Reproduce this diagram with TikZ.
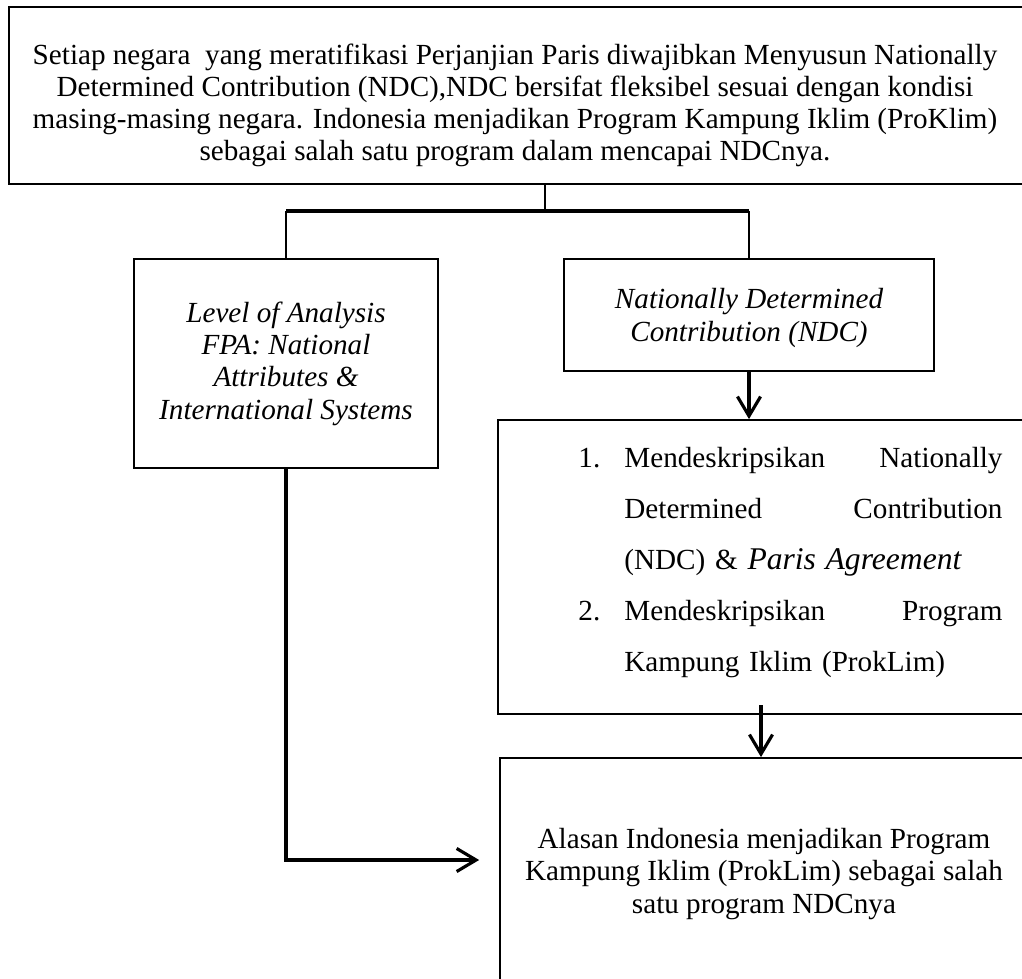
\documentclass[tikz,border=0pt]{standalone}
\usepackage{fontspec}
\setmainfont{Liberation Serif}
\usetikzlibrary{arrows.meta,calc,fit}
\begin{document}
\begin{tikzpicture}[x=0.4115pt,y=-0.4115pt,
  frame/.style={draw, line width=0.75pt, inner sep=0pt},
  topframe/.style={frame, line width=1.1pt},
  txt/.style={font=\fontsize{12}{13.3}\selectfont, align=center, inner sep=0pt, anchor=base},
  itxt/.style={txt, font=\fontsize{12}{13.3}\selectfont\itshape},
  link/.style={line width=1.2pt},
  bar/.style={line width=1.6pt},
  arr/.style={line width=1.3pt, -{Straight Barb[length=8pt,width=9.5pt]}}]
\fill[white] (0,0) rectangle (1022,979);
\useasboundingbox (0,0) rectangle (1022,979);
% frames
\node[topframe, fit={(9,7) (1060,184)}] (top) {};
\node[frame, fit={(134,259) (438,468)}] (left) {};
\node[frame, fit={(564,259) (934,371)}] (ndc) {};
\node[frame, fit={(498,420) (1060,714)}] (b3) {};
\node[frame, fit={(500,758) (1060,1010)}] (b4) {};
% texts (base anchor = baseline of the last line)
\node[txt] (toptext) at (515,161) {Setiap negara\ \ yang meratifikasi Perjanjian Paris diwajibkan Menyusun Nationally\\
Determined Contribution (NDC),NDC bersifat fleksibel sesuai dengan kondisi\\
masing-masing negara. Indonesia menjadikan Program Kampung Iklim (ProKlim)\\
sebagai salah satu program dalam mencapai NDCnya.};
\node[itxt] (lefttext) at (286,419) {Level of Analysis\\ FPA: National\\ Attributes \&\\ International Systems};
\node[itxt] (ndctext) at (749,341) {Nationally Determined\\ Contribution (NDC)};
\node[inner sep=0pt, anchor=base west, text width=174.5pt, align=left,
      font=\fontsize{12}{21}\selectfont] (b3text) at (578,467)
 {\makebox[18.9pt][l]{1.}Mendeskripsikan\hfill Nationally\\
  \hspace*{18.9pt}Determined\hfill Contribution\\
  \hspace*{18.9pt}(NDC) \& {\fontsize{13}{21}\selectfont\itshape Paris Agreement}\\
  \makebox[18.9pt][l]{2.}Mendeskripsikan\hfill Program\\
  \hspace*{18.9pt}Kampung Iklim (ProkLim)};
\node[txt] (b4text) at (764,913) {Alasan Indonesia menjadikan Program\\ Kampung Iklim (ProkLim) sebagai salah\\ satu program NDCnya};
% connectors
\coordinate (j) at (545,211);
\coordinate (a2) at (761,705);
\coordinate (lrow) at (0,860);
\draw[link] (top.south -| j) -- (j);
\draw[bar] (left.north |- j) -- (ndc.north |- j);
\draw[link] (left.north |- j) -- (left.north);
\draw[link] (ndc.north |- j) -- (ndc.north);
\draw[arr] (ndc.south) -- (ndc.south |- b3.north);
\draw[arr] (a2) -- (a2 |- b4.north);
\draw[arr, shorten >=8.2pt] (left.south) |- (b4.west |- lrow);
\end{tikzpicture}
\end{document}
